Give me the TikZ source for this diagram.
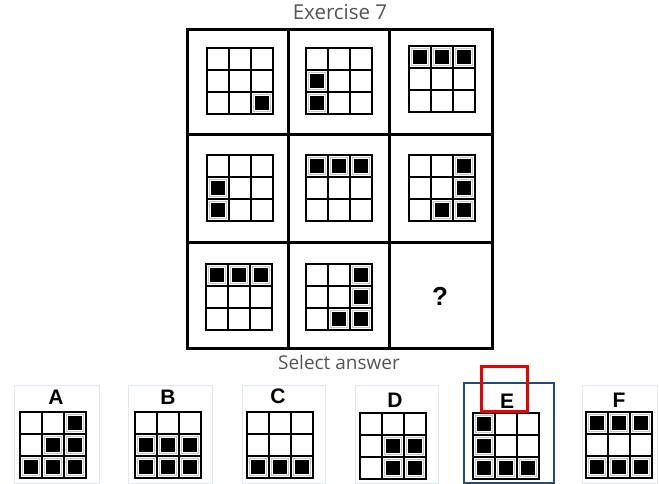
\documentclass[tikz,border=0pt]{standalone}
\usepackage{fontspec}
\setmainfont{Open Sans}
\newfontfamily\lettfont{Liberation Sans}
\definecolor{titlegray}{RGB}{85,85,85}
\definecolor{framegray}{RGB}{226,232,240}
\definecolor{eblue}{RGB}{31,78,121}
\definecolor{ered}{RGB}{238,0,0}

% 3x3 grid at top-left corner (#1,#2), filled cells #3 as row/col
\newcommand{\pgrid}[3]{%
  \foreach \r/\c in {#3} {
    \draw[gray!45, line width=.6pt] ({#1+(\c-1)*22+2.5},{#2+(\r-1)*22+2.5}) rectangle ++(17,17);
    \fill ({#1+(\c-1)*22+4},{#2+(\r-1)*22+4}) rectangle ++(14,14);
  }
  \draw[gridline] (#1,#2) rectangle ++(66,66);
  \foreach \k in {1,2} {
    \draw[gridline] (#1+\k*22,#2) -- ++(0,66);
    \draw[gridline] (#1,#2+\k*22) -- ++(66,0);
  }
}

\begin{document}
\begin{tikzpicture}[x=1pt, y=-1pt,
    gridline/.style={line width=2pt},
    boardline/.style={line width=3pt},
    optframe/.style={draw=framegray, line width=.8pt},
    headtext/.style={text=titlegray, inner sep=0pt},
    lettext/.style={font=\lettfont\bfseries\fontsize{21}{22}\selectfont, inner sep=0pt}]
  \useasboundingbox (0,0) rectangle (659,484);

  \node[headtext, font=\fontsize{20.5}{22}\selectfont] (title) at (340,12) {Exercise 7};
  \node[headtext, font=\fontsize{19}{21}\selectfont] (select) at (339,362) {Select answer};

  % the board
  \draw[boardline] (187,30) rectangle (492,348);
  \draw[boardline] (288,30) -- (288,348) (389,30) -- (389,348);
  \draw[boardline] (187,135) -- (492,135) (187,242) -- (492,242);

  \pgrid{207}{48}{3/3}
  \pgrid{306}{48}{2/1,3/1}
  \pgrid{409}{46}{1/1,1/2,1/3}
  \pgrid{207}{155}{2/1,3/1}
  \pgrid{306}{155}{1/1,1/2,1/3}
  \pgrid{409}{155}{1/3,2/3,3/2,3/3}
  \pgrid{206}{264}{1/1,1/2,1/3}
  \pgrid{306}{264}{1/3,2/3,3/2,3/3}
  \node[font=\lettfont\bfseries\fontsize{26}{28}\selectfont, inner sep=0pt] (qmark) at (440,296) {?};

  % answers
  \draw[optframe] (14,385) rectangle (99,483);
  \draw[optframe] (128,385) rectangle (212,483);
  \draw[optframe] (242,385) rectangle (325,483);
  \draw[optframe] (355,385) rectangle (438,483);
  \draw[optframe] (582,385) rectangle (657,483);
  \draw[eblue, line width=2pt] (464,383) rectangle (554,483);

  \node[lettext] (labA) at (56,397) {A};
  \node[lettext] (labB) at (168,397) {B};
  \node[lettext] (labC) at (278,396) {C};
  \node[lettext] (labD) at (395,400) {D};
  \node[lettext] (labE) at (507,401) {E};
  \node[lettext] (labF) at (619,400) {F};

  \pgrid{20}{412}{1/3,2/2,2/3,3/1,3/2,3/3}
  \pgrid{135}{412}{2/1,2/2,2/3,3/1,3/2,3/3}
  \pgrid{247}{412}{3/1,3/2,3/3}
  \pgrid{360}{413}{2/2,2/3,3/2,3/3}
  \pgrid{473}{413}{1/1,2/1,3/1,3/2,3/3}
  \pgrid{586}{412}{1/1,1/2,1/3,3/1,3/2,3/3}

  \draw[ered, line width=3pt] (481,366) rectangle (527,411);
\end{tikzpicture}
\end{document}
